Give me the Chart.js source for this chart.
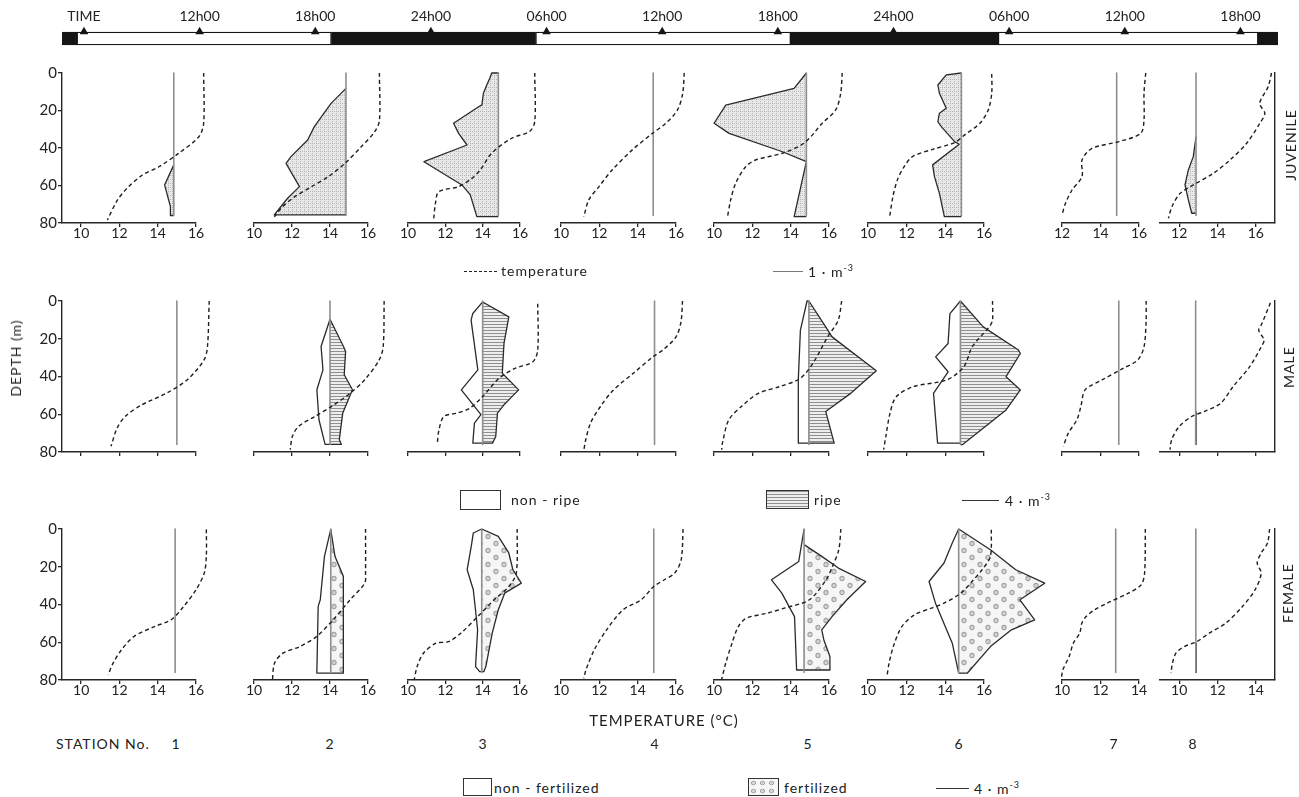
<!DOCTYPE html>
<html><head><meta charset="utf-8">
<script src="https://cdn.jsdelivr.net/npm/chart.js@4.4.1/dist/chart.umd.min.js"></script>
<style>
html,body{margin:0;padding:0;background:#fff;}
#wrap{position:relative;width:1299px;height:797px;overflow:hidden;background:#fff;font-family:Lato,'DejaVu Sans',sans-serif;color:#222;}
#wrap canvas{position:absolute;}
.t{position:absolute;white-space:nowrap;line-height:1;font-size:14px;letter-spacing:1px;}
.ln{position:absolute;height:0;}
.bx{position:absolute;box-sizing:border-box;border:1.5px solid #333;}
</style></head>
<body><div id="wrap"></div>
<script>
// ---------------- DATA ----------------
const stations = ['1','2','3','4','5','6','7','8'];
// time bar (hours from midnight of day 1)
const phaseStart = [4.86, 5.63, 18.84, 29.43, 42.67, 53.43, 66.92];
const phaseEnd   = [5.63, 18.84, 29.43, 42.67, 53.43, 66.92, 67.95];
const phaseDark  = [1, 0, 1, 0, 1, 0, 1];
const timeTicks  = [6, 12, 18, 24, 30, 36, 42, 48, 54, 60, 66];
const timeTickLabels = ['TIME','12h00','18h00','24h00','06h00','12h00','18h00','24h00','06h00','12h00','18h00'];

// temperature axis extents per station
const axisMinJuvMale = [9, 10, 10, 10, 10, 10, 12, 11];
const axisMaxJuvMale = [16, 16, 16, 16, 16, 16, 16, 17];
const axisMinFemale  = [9, 10, 10, 10, 10, 10, 10, 9];
const axisMaxFemale  = [16, 16, 16, 16, 16, 16, 14, 15];
const depthTicks = [0, 20, 40, 60, 80];
const sampledDepth = [0, 76];

// temperature profiles [depth m, temperature degC]
const tempJuvenile = [
 [[0,16.4],[26.8,16.4],[34,16.15],[42.8,15.1],[50,14.06],[54.4,13.2],[61.5,12.4],[67.7,11.9],[78.4,11.37]],
 [[0,16.6],[25.4,16.6],[31.5,16.34],[39.5,15.63],[48.4,14.76],[55.5,13.88],[60.8,13.0],[66.1,12.13],[71.4,11.5],[76.7,11.07]],
 [[0,16.79],[26,16.79],[31.3,16.5],[34.8,15.55],[42.8,14.48],[51.7,13.87],[56.2,13.42],[60.6,12.71],[63.3,11.65],[69.5,11.47],[77.5,11.38]],
 [[0,16.43],[10.8,16.35],[19.7,16.08],[26.8,15.47],[32.2,14.77],[41,13.72],[51.7,12.67],[60.6,11.98],[67.7,11.45],[76.6,11.19]],
 [[0,16.69],[10.8,16.61],[19.7,16.35],[26.8,15.65],[37.5,14.69],[42.8,13.56],[46.4,12.17],[50,11.65],[58.8,11.13],[67.7,10.87],[77.5,10.69]],
 [[0.5,16.4],[10.8,16.4],[19.7,16.22],[26.8,15.79],[33,15.0],[37.1,14.48],[40.7,13.35],[44.6,12.3],[49.9,11.87],[57,11.52],[65.9,11.29],[76.6,11.12]],
 [[0,16.35],[10.8,16.26],[25,16.26],[32.2,16.09],[36.6,14.96],[40.2,13.56],[46.4,13.04],[55.3,13.04],[62.4,12.52],[69.5,12.18],[75.7,12.0]],
 [[0,16.82],[7.3,16.64],[16.2,16.2],[21.5,16.47],[26.8,16.21],[37.5,15.52],[46.4,14.65],[53.5,13.78],[59.7,12.74],[64.2,12.05],[71.3,11.62],[77.5,11.44]]
];
const tempMale = [
 [[0,16.69],[24.1,16.6],[31.2,16.42],[41.7,15.55],[48.8,14.47],[55,13.17],[61.1,12.31],[67.3,11.88],[77,11.56]],
 [[0,16.85],[24.1,16.8],[31.2,16.59],[41.7,15.83],[48.8,15.07],[55.8,14.09],[61.1,13.22],[66.4,12.35],[71.7,12.02],[78.7,11.91]],
 [[1.4,16.95],[26,16.95],[32.2,16.69],[35.7,15.73],[41,14.87],[50.6,14.0],[56.8,13.31],[59.4,12.61],[61.2,11.92],[68.2,11.66],[75.3,11.57]],
 [[0,16.34],[11.1,16.26],[19,16.0],[26,15.31],[29.5,14.8],[38.3,13.77],[47.1,12.74],[55.9,12.06],[64.7,11.54],[73.5,11.29],[78.4,11.2]],
 [[0,16.66],[10.2,16.48],[19,15.93],[33,15.16],[41,14.5],[45.4,13.41],[48.9,12.31],[55.9,11.43],[63,10.77],[75.3,10.44],[78.8,10.4]],
 [[0,16.44],[10.2,16.44],[13.7,16.27],[24.3,15.39],[34.8,14.96],[41.8,14.08],[45.4,12.34],[50.7,11.46],[59.4,11.14],[71.8,10.92],[78.8,10.81]],
 [[0,16.37],[10.2,16.37],[24.3,16.26],[31.3,15.93],[35.7,15.17],[41.8,14.08],[47.1,13.2],[55.9,12.98],[63,12.77],[70,12.33],[77,12.07]],
 [[1,16.76],[11.9,16.32],[15.5,16.15],[20.7,16.43],[24.3,16.28],[34.8,15.68],[45.4,14.81],[54.2,14.16],[58.6,13.3],[61.2,12.65],[66.5,12.0],[73.5,11.61],[78.8,11.52]]
];
const tempFemale = [
 [[0.2,16.54],[14.5,16.54],[23.4,16.43],[32.2,16.0],[41.1,15.35],[48.1,14.7],[51.7,13.83],[57,12.75],[64.1,12.1],[71.1,11.67],[77.3,11.41]],
 [[0,15.87],[23.4,15.87],[28.7,15.83],[37.5,15.06],[48.1,14.17],[57,13.29],[62.3,12.41],[65.8,11.52],[71.1,11.08],[80,10.97]],
 [[0,15.85],[23.4,15.8],[30.5,15.4],[37.5,14.62],[46.4,13.73],[55.2,12.83],[59.7,12.17],[60.5,11.5],[65.8,10.83],[72.9,10.49],[80,10.33]],
 [[0,16.37],[16.3,16.27],[23.4,15.93],[26.9,15.39],[30.5,14.84],[37.5,14.18],[42.8,13.24],[53.4,12.38],[64.1,11.73],[74.7,11.3],[79.1,11.19]],
 [[0,16.62],[11,16.51],[19.9,16.18],[26.9,15.85],[37.5,14.98],[41.9,13.67],[44.6,12.79],[47.2,11.7],[51.7,11.27],[60.5,10.94],[71.1,10.61],[80,10.39]],
 [[0.4,16.38],[14.5,16.33],[21.6,15.9],[26.9,15.46],[34,14.8],[39.3,13.93],[41.9,13.28],[45.5,12.4],[51.7,11.75],[62.3,11.31],[71.1,11.09],[78.2,10.98]],
 [[0,14.33],[23.4,14.29],[29.6,14.11],[34,13.45],[39.3,12.35],[42.8,11.69],[46.4,11.25],[49.9,11.03],[55.2,10.92],[60.5,10.59],[67.6,10.37],[74.7,10.04],[78.2,9.98]],
 [[0,14.72],[7.4,14.61],[12.7,14.28],[18,14.07],[23.4,14.28],[32.2,13.96],[41.1,13.3],[49.9,12.43],[55.2,11.57],[59.7,10.91],[62.3,10.26],[65.8,9.83],[71.1,9.65],[76.4,9.57]]
];

// zero (abundance baseline) position on temperature axis
const zeroJuvenile = [14.84, 14.84, 14.84, 14.81, 14.82, 14.83, 14.84, 12.88];
const zeroMale     = [15.0, 14.0, 14.0, 14.88, 14.95, 14.78, 14.95, 12.86];
const zeroFemale   = [14.91, 14.04, 13.95, 14.84, 14.7, 14.69, 12.79, 10.87];

// abundance profiles [depth m, individuals per m3]
const juvenile = [
 [[49,0],[59.7,0.3],[71.3,0.11],[76,0.11]],
 [[8.2,0],[16.2,0.49],[28.6,1.04],[35.7,1.26],[44.6,1.81],[48.2,1.97],[60.6,1.53],[66.8,1.92],[75.7,2.36]],
 [[0,0.22],[2.5,0.28],[6.5,0.39],[10.8,0.5],[17,0.55],[18,0.66],[26.8,1.5],[32.2,1.33],[38.4,1.05],[47.3,2.49],[59.7,1.22],[65,0.94],[76.6,0.72]],
 [],
 [[0,0],[8.2,0.4],[17.1,2.63],[26.8,3.01],[32.2,2.52],[42,0.78],[47.3,0],[76.6,0.4]],
 [[0,0],[1,0.49],[6.4,0.76],[10.8,0.71],[18.8,0.49],[21.5,0.71],[26,0.76],[28.6,0.65],[36.6,0.22],[38,0.07],[49,0.93],[55.3,0.87],[64.2,0.71],[76.6,0.55]],
 [],
 [[34,0],[44.6,0.09],[51.7,0.25],[59.7,0.36],[67.7,0.25],[74.8,0.14]]
];
const maleNonRipe = [
 [],
 [[9.7,0],[24.1,0.98],[36.5,0.77],[47,1.44],[62.9,1.21],[76,0.54]],
 [[0.5,0],[6.6,1.1],[10.1,1.29],[36.5,0.54],[47.1,2.38],[60.2,0.19],[64.7,0.92],[75.3,1.1]],
 [],
 [[0,0.2],[15.4,0.92],[41.8,1.15],[75.3,1.15]],
 [[0,0],[6.7,1.13],[22.5,1.33],[29.6,2.67],[37.5,1.33],[48.9,2.9],[75.3,2.46]],
 [],
 []
];
const maleRipe = [
 [],
 [[9.7,0],[24.1,1.48],[26.8,1.71],[39.1,1.56],[47,2.46],[59.3,1.4],[73.4,1.02],[76,1.25]],
 [[0.5,0],[8.4,2.92],[22.5,2.38],[38.3,2.19],[47.1,4.02],[52.4,2.92],[55,2.38],[59.4,1.65],[71.8,1.46],[75.3,1.1]],
 [],
 [[0,0],[13.7,1.83],[19,2.52],[36.9,7.33],[48.8,4.58],[58.5,1.83],[75.3,2.75]],
 [[0,0],[13.7,2.46],[26,6.25],[27.8,6.46],[40.1,4.92],[47.1,6.46],[57.7,4.92],[76.1,0.21]],
 [],
 [[58.6,0.05],[76,0.05]]
];
const femaleNonFert = [
 [],
 [[0.2,0],[14.5,0.69],[37.5,1.15],[41,1.38],[74.7,1.52],[76.4,1.52]],
 [[0,0],[2.1,0.94],[9.2,1.17],[21.6,1.63],[32.2,0.94],[53.4,0.46],[72.9,0.69],[75.6,0.23]],
 [],
 [[0,0],[17.2,0.58],[26.9,3.54],[34,2.42],[46.4,1.04],[74.7,0.81]],
 [[0,0],[7.4,0.69],[18,1.58],[27.8,3.19],[39.3,2.5],[60.5,0.69],[76.4,0]],
 [],
 []
];
const femaleFert = [
 [],
 [[0.2,0],[14.5,0.46],[25.1,1.38],[76.4,1.38]],
 [[0,0],[3.9,1.85],[12.7,3.02],[21.6,3.48],[28.7,4.42],[34,2.56],[42.8,1.85],[55.2,1.17],[72.9,0.46],[75.6,0.23]],
 [],
 [[8.3,0],[14.5,1.92],[20.7,3.73],[27.8,6.69],[37.5,4.65],[46.4,3.04],[53.4,1.92],[58.8,2.15],[67.6,2.81],[74.7,2.81]],
 [[0,0],[11,3.42],[21.6,6.15],[28.7,9.27],[37.5,6.6],[48.1,8.19],[53.4,5.69],[62.3,3.42],[76.4,0.92]],
 [],
 [[60.5,0.05],[76,0.05]]
];
// legend scale bars: degrees of temperature axis per 1 ind/m3
const degPerUnit = [1.6, 0.48, 0.48];

// ---------------- LAYOUT ----------------
const FONT = "Lato, 'DejaVu Sans', sans-serif";
const colLeft  = [62, 254, 408, 561, 714, 868, 1062, 1160];
const colRight = [196, 368, 520, 676, 829, 984, 1139, 1275];
const rowTop    = [73, 301, 529];
const rowBottom = [223, 452, 680];
const wrap = document.getElementById('wrap');

function mkPattern(kind){
  const c = document.createElement('canvas'); const g = c.getContext('2d');
  if (kind === 'stipple'){
    c.width = 4; c.height = 4; g.fillStyle = '#e8e8e8'; g.fillRect(0,0,4,4);
    g.fillStyle = '#b4b4b4'; g.fillRect(0,0,1,1); g.fillRect(2,2,1,1); g.fillRect(2,0,1,1);
  } else if (kind === 'hatch'){
    c.width = 4; c.height = 3; g.fillStyle = '#ededed'; g.fillRect(0,0,4,3);
    g.fillStyle = '#8f8f8f'; g.fillRect(0,0,4,1);
  } else {
    c.width = 16; c.height = 14; g.fillStyle = '#f6f6f6'; g.fillRect(0,0,16,14);
    g.strokeStyle = '#a2a2a2'; g.fillStyle = '#d6d6d6'; g.lineWidth = 1.1;
    [[4,3.5],[12,10.5]].forEach(([x,y])=>{g.beginPath(); g.arc(x,y,2.1,0,Math.PI*2); g.fill(); g.stroke();});
  }
  return g.createPattern(c, 'repeat');
}
const patStipple = mkPattern('stipple'), patHatch = mkPattern('hatch'), patDots = mkPattern('dots');

const unclip = {
  id: 'unclip',
  beforeDatasetsDraw(ch){ ch.$area = ch.chartArea; ch.chartArea = {left:0, top:0, right:ch.width, bottom:ch.height, width:ch.width, height:ch.height}; },
  afterDatasetsDraw(ch){ ch.chartArea = ch.$area; }
};

function addCanvas(x, y, w, h){
  const cv = document.createElement('canvas');
  cv.width = w; cv.height = h; cv.style.left = x + 'px'; cv.style.top = y + 'px';
  cv.style.width = w + 'px'; cv.style.height = h + 'px';
  wrap.appendChild(cv); return cv;
}
function poly(zero, prof, k, sign){
  if (!prof.length) return [];
  const pts = [{x: zero, y: prof[0][0]}];
  prof.forEach(([d, n]) => pts.push({x: zero + sign * n * k, y: d}));
  pts.push({x: zero, y: prof[prof.length - 1][0]});
  return pts;
}

const rowTemp = [tempJuvenile, tempMale, tempFemale];
const rowZero = [zeroJuvenile, zeroMale, zeroFemale];
const rowLeft = [juvenile, maleNonRipe, femaleNonFert];
const rowRight = [null, maleRipe, femaleFert];
const rowMin = [axisMinJuvMale, axisMinJuvMale, axisMinFemale];
const rowMax = [axisMaxJuvMale, axisMaxJuvMale, axisMaxFemale];

function panel(r, c){
  const L = colLeft[c], R = colRight[c], T = rowTop[r], B = rowBottom[r];
  const yL = c === 0 ? 32 : 0, yR = c === 7 ? 1 : 0;
  const xH = r === 1 ? 6 : 20;
  const padL = 20, padR = 80, padT = 10, padB = 4;
  const w = padL + yL + (R - L) + yR + padR;
  const h = padT + (B - T) + xH + padB;
  const cv = addCanvas(L - padL - yL, T - padT, w, h);
  const zero = rowZero[r][c], k = degPerUnit[r];
  const base = {showLine:true, pointRadius:0, pointHoverRadius:0, clip:false, tension:0, borderJoinStyle:'round'};
  const ds = [];
  ds.push(Object.assign({}, base, {
    data: rowTemp[r][c].map(([d, t]) => ({x: t, y: d})),
    borderColor:'#1e1e1e', borderWidth:1.4, borderDash:[4,3], tension:0.3, capBezierPoints:false, fill:false
  }));
  ds.push(Object.assign({}, base, {
    data: sampledDepth.map(d => ({x: zero, y: d})),
    borderColor:'#8e8e8e', borderWidth:1.6, fill:false
  }));
  if (rowRight[r] && rowRight[r][c].length){
    ds.push(Object.assign({}, base, {
      data: poly(zero, rowRight[r][c], k, 1),
      borderColor:'#2a2a2a', borderWidth:1.3, fill:'shape',
      backgroundColor: r === 1 ? patHatch : patDots
    }));
  }
  if (rowLeft[r][c].length){
    ds.push(Object.assign({}, base, {
      data: poly(zero, rowLeft[r][c], k, -1),
      borderColor:'#2a2a2a', borderWidth:1.3,
      fill: r === 0 ? 'shape' : false,
      backgroundColor: r === 0 ? patStipple : 'rgba(0,0,0,0)'
    }));
  }
  new Chart(cv, {
    type:'scatter',
    data:{datasets: ds},
    plugins:[unclip],
    options:{
      responsive:false, animation:false, events:[], devicePixelRatio:1,
      layout:{padding:{left:padL, right:padR, top:padT, bottom:padB}},
      plugins:{legend:{display:false}, tooltip:{enabled:false}},
      scales:{
        x:{type:'linear', min:rowMin[r][c], max:rowMax[r][c], position:'bottom',
           border:{display:true, color:'#262626', width:1.4},
           grid:{display:true, drawOnChartArea:false, drawTicks:true, tickLength:4, color:'#262626', lineWidth:1.3},
           ticks:{display: r !== 1, stepSize:1, autoSkip:false, maxRotation:0, padding:-1, color:'#222',
                  font:{family:FONT, size:14, lineHeight:1}},
           afterBuildTicks:(s) => { s.ticks = s.ticks.filter(t => Math.abs(t.value % 2) < 1e-6); },
           afterFit:(s) => { s.height = xH; }},
        y:{type:'linear', min:0, max:80, reverse:true, display: c === 0 || c === 7,
           position: c === 7 ? 'right' : 'left',
           border:{display:true, color:'#262626', width:1.4},
           grid:{display: c === 0, drawOnChartArea:false, drawTicks:true, tickLength:4, color:'#262626', lineWidth:1.3},
           ticks:{display: c === 0, stepSize:20, padding:1, color:'#222', font:{family:FONT, size:15}},
           afterBuildTicks:(s) => { if (c === 0) s.ticks = depthTicks.map(v => ({value:v})); },
           afterFit:(s) => { s.width = c === 0 ? yL : yR; }}
      }
    }
  });
}
for (let r = 0; r < 3; r++) for (let c = 0; c < 8; c++) panel(r, c);

// ---------------- TIME BAR ----------------
(function(){
  const cv = addCanvas(0, 0, 1299, 60);
  const ds = phaseStart.map((s, i) => ({
    type:'bar', indexAxis:'y', data:[[s, phaseEnd[i]]], yAxisID:'y', order:2,
    backgroundColor: phaseDark[i] ? '#151515' : '#ffffff', borderColor:'#151515',
    borderWidth:1.4, borderSkipped:false, barThickness:13, grouped:false
  }));
  ds.push({type:'scatter', indexAxis:'x', yAxisID:'y2', clip:false, order:0,
    data: timeTicks.map(hh => ({x: hh, y: 1.04})),
    pointStyle:'triangle', pointRadius:5, backgroundColor:'#151515', borderColor:'#151515', borderWidth:0});
  new Chart(cv, {
    type:'bar',
    data:{labels:['day'], datasets: ds},
    options:{
      indexAxis:'y', responsive:false, animation:false, events:[], devicePixelRatio:1,
      layout:{padding:{left:62, right:21, top:4, bottom:9}},
      plugins:{legend:{display:false}, tooltip:{enabled:false}},
      scales:{
        x:{type:'linear', position:'top', min:phaseStart[0], max:phaseEnd[phaseEnd.length-1],
           border:{display:false}, grid:{display:false},
           ticks:{autoSkip:false, maxRotation:0, padding:-5, color:'#222', font:{family:FONT, size:14, lineHeight:1},
                  callback:(v) => timeTickLabels[timeTicks.indexOf(v)]},
           afterBuildTicks:(s) => { s.ticks = timeTicks.map(v => ({value:v})); },
           afterFit:(s) => { s.height = 22; }},
        y:{type:'category', display:false},
        y2:{type:'linear', display:false, min:0, max:1}
      }
    }
  });
})();

// ---------------- TEXT & LEGENDS ----------------
function txt(s, x, y, o){
  o = o || {};
  const d = document.createElement('div'); d.className = 't'; d.innerHTML = s;
  d.style.left = x + 'px'; d.style.top = y + 'px';
  if (o.size) d.style.fontSize = o.size + 'px';
  let tr = o.center ? 'translate(-50%,-50%)' : 'translate(0,-50%)';
  if (o.rot) tr = 'translate(-50%,-50%) rotate(-90deg)';
  d.style.transform = tr;
  wrap.appendChild(d); return d;
}
function hline(x1, x2, y, style){
  const d = document.createElement('div'); d.className = 'ln';
  d.style.left = x1 + 'px'; d.style.top = y + 'px'; d.style.width = (x2 - x1) + 'px';
  d.style.borderTop = style; wrap.appendChild(d);
}
function box(x, y, w, h, bg){
  const d = document.createElement('div'); d.className = 'bx';
  d.style.left = x + 'px'; d.style.top = y + 'px'; d.style.width = w + 'px'; d.style.height = h + 'px';
  if (bg) d.style.background = bg; wrap.appendChild(d);
}
txt('DEPTH (m)', 16, 358, {rot:true, size:14});
txt('JUVENILE', 1291, 145, {rot:true, size:14});
txt('MALE', 1289, 367, {rot:true, size:14});
txt('FEMALE', 1288, 593, {rot:true, size:14});
// legend row 1
hline(464, 497, 271, '1.3px dashed #222');
txt('temperature', 501, 271, {size:14});
hline(773, 803, 271, '1.6px solid #7a7a7a');
txt('1 &middot; m<sup style="font-size:9px">-3</sup>', 808, 271, {size:14});
// legend row 2
box(460, 490, 41, 20);
txt('non - ripe', 511, 500, {size:14});
box(766, 490, 43, 19, 'repeating-linear-gradient(to bottom,#8f8f8f 0 1px,#ededed 1px 3px)');
txt('ripe', 814, 500, {size:14});
hline(962, 999, 500, '1.6px solid #333');
txt('4 &middot; m<sup style="font-size:9px">-3</sup>', 1005, 500, {size:14});
// axis title and stations
txt('TEMPERATURE (&deg;C)', 664, 720, {center:true, size:15});
txt('STATION No.', 56, 744, {size:14});
const stationX = [176, 330, 483, 655, 808, 959, 1114, 1193];
stations.forEach((s, i) => txt(s, stationX[i], 744, {center:true, size:14}));
// legend row 3
box(463, 778, 29, 18);
txt('non - fertilized', 494, 788, {size:14});
box(748, 778, 31, 18, 'radial-gradient(circle,#d6d6d6 1.4px,#a2a2a2 1.8px,#a2a2a2 2.3px,transparent 2.6px) 0 0/9px 8px,#f6f6f6');
txt('fertilized', 784, 788, {size:14});
hline(936, 969, 788, '1.6px solid #333');
txt('4 &middot; m<sup style="font-size:9px">-3</sup>', 974, 788, {size:14});
</script></body></html>
